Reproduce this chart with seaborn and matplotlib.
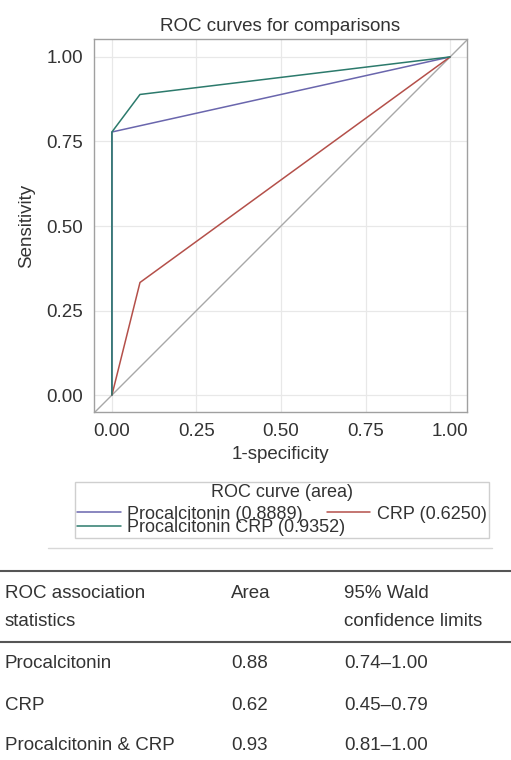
import pandas as pd
import matplotlib
matplotlib.use('Agg')
import matplotlib.pyplot as plt
import seaborn as sns
from matplotlib.lines import Line2D

# ROC curve points
curve_names = ['Procalcitonin (0.8889)', 'CRP (0.6250)', 'Procalcitonin CRP (0.9352)']
pct_fpr = [0.0, 0.0, 1.0]
pct_tpr = [0.0, 0.778, 1.0]
crp_fpr = [0.0, 0.083, 1.0]
crp_tpr = [0.0, 0.333, 1.0]
both_fpr = [0.0, 0.0, 0.083, 1.0]
both_tpr = [0.0, 0.778, 0.889, 1.0]
curve_colors = ['#6a66ad', '#b4504a', '#2c7a6c']

ticks = [0.0, 0.25, 0.5, 0.75, 1.0]
tick_labels = ['0.00', '0.25', '0.50', '0.75', '1.00']

# table below the chart
table_header = [['ROC association', 'statistics'], ['Area'], ['95% Wald', 'confidence limits']]
table_rows = [['Procalcitonin', '0.88', '0.74\u20131.00'],
              ['CRP', '0.62', '0.45\u20130.79'],
              ['Procalcitonin & CRP', '0.93', '0.81\u20131.00']]

frames = []
for name, xs, ys in zip(curve_names, [pct_fpr, crp_fpr, both_fpr], [pct_tpr, crp_tpr, both_tpr]):
    frames.append(pd.DataFrame({'fpr': xs, 'tpr': ys, 'curve': name}))
df = pd.concat(frames, ignore_index=True)

sns.set_style('white')
plt.rcParams['font.family'] = ['Liberation Sans', 'DejaVu Sans']
fs = 13.5
text_col = '#333333'

fig = plt.figure(figsize=(5.11, 7.60), dpi=100)
ax = fig.add_axes([94 / 511, 1 - 412 / 760, (467 - 94) / 511, (412 - 39) / 760])

ax.axline((0, 0), slope=1, color='#a8a8a8', lw=1.0, zorder=1)
sns.lineplot(data=df, x='fpr', y='tpr', hue='curve', palette=dict(zip(curve_names, curve_colors)),
             estimator=None, sort=False, units='curve', lw=1.1, ax=ax, zorder=3)
handles, labels = ax.get_legend_handles_labels()
ax.get_legend().remove()

ax.set_xlim(-0.053, 1.05)
ax.set_ylim(-0.05, 1.053)
ax.set_xticks(ticks)
ax.set_xticklabels(tick_labels)
ax.set_yticks(ticks)
ax.set_yticklabels(tick_labels)
ax.grid(True, color='#e8e8e8', lw=0.9)
ax.set_axisbelow(True)
for sp in ax.spines.values():
    sp.set_color('#a0a0a0')
    sp.set_linewidth(1.0)
ax.tick_params(axis='both', which='both', length=5, width=1, color='#a0a0a0',
               labelsize=fs, labelcolor=text_col, direction='out', pad=3)
ax.set_xlabel('1-specificity', fontsize=fs, color=text_col, labelpad=4)
ax.set_ylabel('Sensitivity', fontsize=fs, color=text_col, labelpad=8)
ax.set_title('ROC curves for comparisons', fontsize=fs, color=text_col, pad=6)

# legend: two columns, first column holds Procalcitonin and the combined curve
lfs = 13
order = [0, 2, 1]
leg = fig.legend([handles[i] for i in order], [labels[i] for i in order],
                 title='ROC curve (area)', ncol=2, loc='upper left',
                 bbox_to_anchor=(75 / 511, 1 - 482 / 760), fontsize=lfs, title_fontsize=lfs,
                 frameon=True, fancybox=False, edgecolor='#cfcfcf', framealpha=1,
                 handlelength=2.4, handletextpad=0.35, columnspacing=-1.0,
                 labelspacing=-0.2, borderpad=0.12, borderaxespad=0)
leg._legend_box.sep = 0.25 * lfs
leg.get_frame().set_linewidth(1.0)
for t in leg.get_texts():
    t.set_color(text_col)
leg.get_title().set_color(text_col)

# separator line under the legend
fig.add_artist(Line2D([48 / 511, 492 / 511], [1 - 548 / 760] * 2, color='#d8d8d8', lw=1.0))

# table
fig.add_artist(Line2D([0, 1], [1 - 571 / 760] * 2, color='#555555', lw=1.5))
fig.add_artist(Line2D([0, 1], [1 - 642 / 760] * 2, color='#555555', lw=1.5))
col_x = [5, 231, 344]
for cx, lines in zip(col_x, table_header):
    for j, s in enumerate(lines):
        fig.text(cx / 511, 1 - (593 + 29 * j) / 760, s, fontsize=fs, color=text_col, va='center', ha='left')
row_y = [663, 705, 745]
for ry, row in zip(row_y, table_rows):
    for cx, s in zip(col_x, row):
        fig.text(cx / 511, 1 - ry / 760, s, fontsize=fs, color=text_col, va='center', ha='left')

fig.savefig('out.png', dpi=100)
